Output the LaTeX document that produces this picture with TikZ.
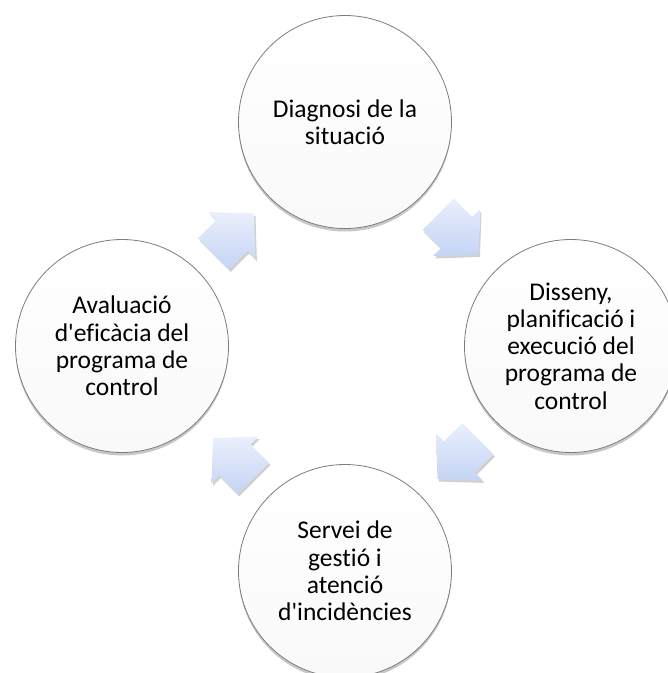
\documentclass[tikz,border=0pt]{standalone}
\usepackage{fontspec}
\setmainfont{Carlito}[Ligatures=NoCommon]
\usetikzlibrary{shadows,calc}
\definecolor{ringline}{RGB}{125,125,125}
\definecolor{arrtop}{RGB}{233,239,252}
\definecolor{arrbot}{RGB}{197,212,245}
\definecolor{circbot}{RGB}{249,249,249}
\begin{document}
\begin{tikzpicture}[x=1pt,y=-1pt,
  stage/.style={circle, draw=ringline, line width=0.8pt, minimum size=213pt,
    inner sep=0pt, align=center, font=\fontsize{25.5}{27.3}\selectfont,
    top color=white, bottom color=circbot,
    drop shadow={shadow xshift=0pt, shadow yshift=-3pt, opacity=0.22, fill=black}},
  cycarrow/.style={draw=none, top color=arrtop, bottom color=arrbot,
    drop shadow={shadow xshift=1.5pt, shadow yshift=-2.5pt, opacity=0.18, fill=black}}]
\useasboundingbox (0,0) rectangle (668,673);

\node[stage] (diag) at (345,122) {Diagnosi de la\\situació};
\node[stage] (dis)  at (571,346) {Disseny,\\planificació i\\execució del\\programa de\\control};
\node[stage] (serv) at (345,571) {Servei de\\gestió i\\atenció\\d\textquotesingle incidències};
\node[stage] (aval) at (122,346) {Avaluació\\d\textquotesingle eficàcia del\\programa de\\control};

\foreach \a/\b/\ang in {aval/diag/45, diag/dis/-45, dis/serv/-135, serv/aval/135}{
  \coordinate (m) at ($(\a)!0.5!(\b)$);
  \path[cycarrow]
    ($(m)+(\ang:-28pt)+(\ang+90:-22pt)$) --
    ($(m)+(\ang:-2pt)+(\ang+90:-22pt)$) --
    ($(m)+(\ang:-2pt)+(\ang+90:-33pt)$) --
    ($(m)+(\ang:29pt)$) --
    ($(m)+(\ang:-2pt)+(\ang+90:33pt)$) --
    ($(m)+(\ang:-2pt)+(\ang+90:22pt)$) --
    ($(m)+(\ang:-28pt)+(\ang+90:22pt)$) -- cycle;
}
\end{tikzpicture}
\end{document}
